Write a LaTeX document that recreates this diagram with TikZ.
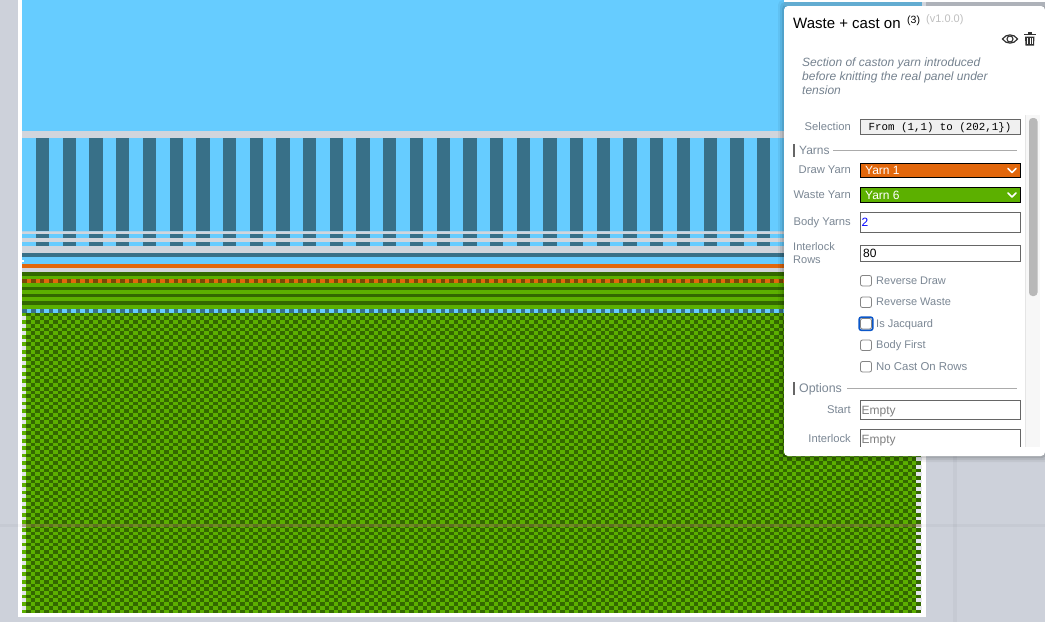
\documentclass[tikz,border=0pt]{standalone}
\usepackage{fontspec}
\setmainfont{Liberation Sans}
\newfontfamily\monof{Liberation Mono}
\definecolor{bg}{HTML}{CDD1DA}
\definecolor{sky}{HTML}{66CCFF}
\definecolor{bar}{HTML}{387088}
\definecolor{band}{HTML}{D1D5DC}
\definecolor{grn}{HTML}{5CB000}
\definecolor{dgrn}{HTML}{336800}
\definecolor{org}{HTML}{E2670C}
\definecolor{brn}{HTML}{7A4A05}
\definecolor{lbl}{HTML}{7B8794}
\definecolor{desc}{HTML}{75828F}
\definecolor{rule}{HTML}{ABABAB}
\definecolor{bord}{HTML}{666666}
\definecolor{fcs}{HTML}{0B57C9}
\definecolor{guide}{HTML}{8C7448}
\tikzset{
 x=1pt,y=-1pt,
 txt/.style={anchor=base west,inner sep=0pt,font=\fontsize{11}{13}\selectfont},
 lab/.style={anchor=base east,inner sep=0pt,text=lbl,font=\fontsize{11.2}{13}\selectfont},
 chk/.style={txt,text=lbl},
 dsc/.style={txt,text=desc,font=\fontsize{12}{14}\selectfont\itshape},
 inbox/.style={draw=bord,line width=1pt,fill=white},
 sel/.style={draw=black,line width=1pt},
 cbox/.style={draw=bord!80,line width=.8pt,fill=white,rounded corners=2pt},
 chev/.style={draw=white,line width=1.6pt,line cap=round,line join=round},
 stripe/.style={line width=3.71pt},
 chkdash/.style={dash pattern=on 4.45pt off 4.45pt},
}
\begin{document}
\begin{tikzpicture}
\useasboundingbox (0,0) rectangle (1045,622);
\fill[bg] (0,0) rectangle (1045,622);
% sheet
\fill[white] (18,0) rectangle (926,617);
\fill[sky] (22,0) rectangle (922,312.7);
\fill[bg] (926,0) rectangle (1045,6);
% bars
\foreach \k in {0,...,33}{\fill[bar] ({36+26.7*\k},138) rectangle ({49.35+26.7*\k},246);}
\fill[band] (22,131) rectangle (922,138);
\fill[band!70!sky] (22,230.7) rectangle (922,231.8);
\fill[band] (22,231.8) rectangle (922,234);
\fill[band] (22,237.7) rectangle (922,242);
\fill[band] (22,246) rectangle (922,253);
\fill[bar] (22,253) rectangle (922,257);
\fill[org] (22,264) rectangle (922,267.7);
\fill[band] (22,267.7) rectangle (922,272);
\fill[white] (18,260) rectangle (24,262);
% waste stripes
\fill[grn] (22,272) rectangle (922,309);
\foreach \a/\b in {272/275.7,286.7/290.3,293.7/297.3,301/305.3}{\fill[dgrn] (22,\a) rectangle (922,\b);}
\fill[org] (22,279) rectangle (922,283);
\draw[brn,line width=4pt,chkdash] (22.2,281) -- (922,281);
\fill[sky] (22,309) rectangle (922,312.7);
\draw[bar,line width=3.7pt,chkdash] (22.2,310.85) -- (922,310.85);
% jacquard checker
\fill[grn] (22,312.7) rectangle (916.45,613);
\foreach \j in {0,...,80}{
  \pgfmathsetmacro\yy{314.56+3.71*\j}
  \ifodd\j
    \draw[dgrn,stripe,chkdash] (30.9,\yy) -- (916.45,\yy);
    \fill[band!60!white] (22,{\yy-1.86}) rectangle (26.45,{\yy+1.86});
    \fill[band!60!white] (916.45,{\yy-1.86}) rectangle (921.5,{\yy+1.86});
  \else
    \draw[dgrn,stripe,chkdash] (26.45,\yy) -- (921,\yy);
  \fi
}
\fill[white] (18,613) rectangle (926,617);
% guide lines
\fill[black,opacity=.03] (0,524) rectangle (1045,527.3);
\fill[guide,opacity=.5] (22,524) rectangle (921,527.3);
\fill[black,opacity=.03] (953,0) rectangle (957,622);
% panel shadow
\foreach \o/\a in {6/.05,4/.07,2/.09}{\fill[black,opacity=\a,rounded corners=5pt] ({784-\o},{6-\o}) rectangle ({1045+\o},{456+\o});}
% top strip
\fill[white] (784,0) rectangle (1045,2);
\fill[sky!80!black!90!white] (784,2) rectangle (922,6);
\fill[bg!85!black] (926,2) rectangle (1045,6);
\fill[band] (922,2) rectangle (926,6);
% panel
\fill[white,rounded corners=4pt] (784,6) rectangle (1045,456);
% header
\node[txt,font=\fontsize{15}{17}\selectfont] (title) at (793,28) {Waste + cast on};
\node[txt,font=\fontsize{10.5}{12}\selectfont] (cnt) at (907,23) {(3)};
\node[txt,text=black!25,font=\fontsize{11}{13}\selectfont] (ver) at (926,22) {(v1.0.0)};
% eye icon
\draw[black!80,line width=1.2pt] (1002.5,39) .. controls (1006,33.5) and (1014,33.5) .. (1017.5,39) .. controls (1014,44.5) and (1006,44.5) .. (1002.5,39) -- cycle;
\draw[black!80,line width=1.1pt] (1010,39) circle (3);
% trash icon
\fill[black!80] (1024,33.5) rectangle (1035.5,35.3);
\fill[black!80] (1027.5,32) rectangle (1032,34);
\fill[black!80] (1025,36.5) -- (1034.5,36.5) -- (1034,45.5) -- (1025.5,45.5) -- cycle;
\foreach \s in {1027.4,1029.5,1031.6}{\fill[white] (\s,38) rectangle (\s+.9,44);}
% description
\node[dsc] (d1) at (802,66) {Section of caston yarn introduced};
\node[dsc] (d2) at (802,80) {before knitting the real panel under};
\node[dsc] (d3) at (802,94) {tension};
% selection
\node[lab] (l1) at (851,130) {Selection};
\draw[draw=bord,line width=1pt,fill=black!6] (860.5,119.5) rectangle (1020.5,134.5);
\node[anchor=base,inner sep=0pt,font=\fontsize{10.8}{12}\monof] (seltxt) at (940,130.5) {From (1,1) to (202,1\})};
% yarns
\fill[bord] (793,144) rectangle (795,157);
\node[txt,text=lbl,font=\fontsize{12}{14}\selectfont] (h1) at (799,154) {Yarns};
\draw[rule] (833,150.5) -- (1017,150.5);
\node[lab] (l2) at (851,173) {Draw Yarn};
\draw[sel,fill=org] (860.5,163.5) rectangle (1020.5,177.5);
\node[txt,text=white,font=\fontsize{12}{14}\selectfont] (s1) at (865,174.5) {Yarn 1};
\draw[chev] (1008,168.5) -- (1012,172.5) -- (1016,168.5);
\node[lab] (l3) at (851,198) {Waste Yarn};
\draw[sel,fill=grn] (860.5,187.5) rectangle (1020.5,202);
\node[txt,text=white,font=\fontsize{12}{14}\selectfont] (s2) at (865,199) {Yarn 6};
\draw[chev] (1008,193) -- (1012,197) -- (1016,193);
\node[lab] (l4) at (851,225) {Body Yarns};
\draw[inbox] (860.5,212.5) rectangle (1020.5,232.5);
\node[txt,text=blue,font=\fontsize{12}{14}\selectfont] (v1) at (861.5,226) {2};
\node[txt,text=lbl] (l5) at (793,250) {Interlock};
\node[txt,text=lbl] (l5b) at (793,263) {Rows};
\draw[inbox] (860.5,245.5) rectangle (1020.5,261.5);
\node[txt,font=\fontsize{12}{14}\selectfont] (v2) at (863,257.5) {80};
% checkboxes
\draw[cbox] (860.5,275.5) rectangle (871.5,286);
\node[chk] (c1) at (876,284) {Reverse Draw};
\draw[cbox] (860.5,297) rectangle (871.5,307.5);
\node[chk] (c2) at (876,305) {Reverse Waste};
\draw[fcs,line width=1.6pt,rounded corners=2pt] (859.2,317.2) rectangle (872.8,330.2);
\draw[cbox] (860.5,318.5) rectangle (871.5,329);
\node[chk] (c3) at (876,327) {Is Jacquard};
\draw[cbox] (860.5,340) rectangle (871.5,350.5);
\node[chk] (c4) at (876,348) {Body First};
\draw[cbox] (860.5,361.5) rectangle (871.5,372);
\node[chk,font=\fontsize{11.4}{13}\selectfont] (c5) at (876,370) {No Cast On Rows};
% options
\fill[bord] (793,382) rectangle (795,395);
\node[txt,text=lbl,font=\fontsize{12.4}{14}\selectfont] (h2) at (799,392) {Options};
\draw[rule] (847,388.5) -- (1017,388.5);
\node[lab] (l6) at (851,413) {Start};
\draw[inbox] (860.5,400.5) rectangle (1020.5,419.5);
\node[txt,text=black!50,font=\fontsize{12}{14}\selectfont] (e1) at (861.5,414) {Empty};
\node[lab] (l7) at (851,442) {Interlock};
\begin{scope}
\clip (784,420) rectangle (1045,446.7);
\draw[inbox] (860.5,429.5) rectangle (1020.5,460);
\end{scope}
\node[txt,text=black!50,font=\fontsize{12}{14}\selectfont] (e2) at (861.5,443) {Empty};
% scrollbar
\fill[black!3] (1025,115) rectangle (1040,446.7);
\draw[black!10,line width=.6pt] (1025,115) -- (1025,446.7);
\fill[black!28,rounded corners=3.5pt] (1029,118) rectangle (1037.5,296);
\end{tikzpicture}
\end{document}
